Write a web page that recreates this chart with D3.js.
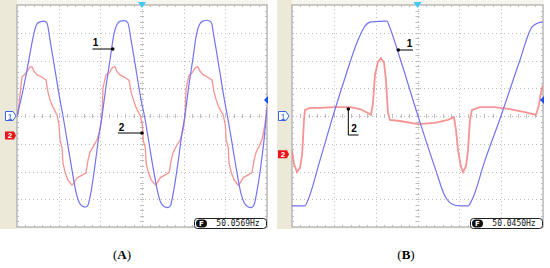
<!DOCTYPE html>
<html>
<head>
<meta charset="utf-8">
<script src="https://cdn.jsdelivr.net/npm/d3@7"></script>
<style>
  body { margin: 0; background: #fff; }
  svg { display: block; }
</style>
</head>
<body>
<div id="chart"></div>
<script>
// time in ms, voltage in screen divisions (centre = 0)
const blueA = [
  [0, 0], [1.2, 0.76], [2.4, 1.66], [3.36, 2.45], [4.08, 2.99], [4.8, 3.32], [5.52, 3.39], [6.48, 3.42], [7.2, 3.35],
  [7.92, 2.74], [9.12, 1.66], [10.32, 0.58], [11.04, 0], [12.0, -0.86], [13.2, -1.95], [14.16, -2.74], [14.88, -3.1],
  [15.6, -3.24], [16.56, -3.28], [17.04, -3.21], [17.76, -2.74], [18.72, -1.77], [19.68, -0.68], [20.4, 0],
  [21.4, 1.1], [22.4, 2.1], [23.2, 2.9], [24.0, 3.3], [24.8, 3.42], [25.8, 3.44], [26.6, 3.36],
  [27.4, 2.72], [28.6, 1.64], [29.8, 0.56], [30.6, 0], [31.6, -0.9], [32.8, -1.98], [33.8, -2.76], [34.5, -3.12],
  [35.3, -3.26], [36.3, -3.3], [36.9, -3.2], [37.6, -2.7], [38.6, -1.72], [39.6, -0.62], [40.3, 0],
  [41.2, 1.05], [42.2, 2.05], [43.0, 2.88], [43.8, 3.3], [44.6, 3.42], [45.6, 3.45], [46.6, 3.38],
  [47.4, 2.74], [48.6, 1.66], [49.8, 0.56], [50.5, 0], [51.5, -0.88], [52.7, -1.96], [53.7, -2.76], [54.5, -3.12],
  [55.3, -3.26], [56.3, -3.3], [56.9, -3.2], [57.6, -2.7], [58.6, -1.72], [59.4, -0.7], [60, 0.3]
];

const redA = [
  [0.24, 0.04], [0.72, 0.76], [1.2, 1.41], [1.68, 1.48], [2.4, 1.59], [3.12, 1.77], [3.6, 1.77], [4.08, 1.62],
  [4.8, 1.48], [5.52, 1.44], [6.24, 1.37], [6.96, 1.3], [7.44, 0.86], [7.92, 0.58], [8.64, 0.32], [9.6, 0.04],
  [10.08, -0.32], [10.32, -0.86], [10.8, -1.15], [11.04, -1.69], [11.52, -2.02], [12.24, -2.31], [13.2, -2.49],
  [13.68, -2.41], [14.4, -2.23], [15.6, -2.13], [16.56, -2.05], [17.04, -1.59], [17.52, -1.3], [18.24, -1.12],
  [19.2, -0.86], [19.92, -0.5], [20.4, -0.04], [20.64, 1.01], [21.36, 1.48], [22.1, 1.55], [22.9, 1.75],
  [23.5, 1.78], [24.0, 1.6], [24.8, 1.47], [25.5, 1.42], [26.2, 1.36], [26.9, 1.28], [27.4, 0.85], [27.9, 0.6],
  [28.6, 0.3], [29.6, 0.02], [30.1, -0.34], [30.3, -0.88], [30.8, -1.16], [31.0, -1.7], [31.5, -2.02],
  [32.2, -2.3], [33.2, -2.48], [33.7, -2.4], [34.4, -2.22], [35.6, -2.12], [36.5, -2.04], [37.0, -1.6],
  [37.5, -1.3], [38.2, -1.1], [39.2, -0.85], [39.9, -0.48], [40.3, -0.02], [40.6, 1.0], [41.3, 1.47],
  [42.0, 1.55], [42.8, 1.74], [43.4, 1.78], [43.9, 1.62], [44.7, 1.48], [45.4, 1.43], [46.1, 1.37], [46.8, 1.3],
  [47.3, 0.86], [47.8, 0.58], [48.5, 0.3], [49.5, 0.03], [50.0, -0.33], [50.2, -0.87], [50.7, -1.15],
  [50.9, -1.7], [51.4, -2.02], [52.1, -2.3], [53.1, -2.5], [53.6, -2.4], [54.3, -2.22], [55.5, -2.12],
  [56.4, -2.04], [56.9, -1.58], [57.4, -1.3], [58.1, -1.1], [58.9, -0.8], [59.5, -0.3], [60, 0.32]
];

const blueB = [
  [0, -3.24], [1.55, -3.24], [1.91, -3.03], [3.35, -1.59], [4.9, 0], [6.33, 1.37], [7.89, 2.74], [8.72, 3.24],
  [9.44, 3.39], [11.35, 3.42], [11.71, 3.17], [12.9, 2.09], [15.06, 0], [17.09, -1.87], [18.28, -2.88],
  [19.12, -3.17], [20.08, -3.24], [21.04, -3.24], [21.5, -3.03], [23.07, -1.59], [24.98, 0], [27.25, 2.02],
  [28.68, 3.21], [29.4, 3.35], [30, 3.39]
];

const redB = [
  [0, -1.23], [0.24, -1.73], [0.6, -2.02], [0.96, -1.87], [1.2, -1.41], [1.31, -0.86], [1.43, -0.14],
  [1.55, 0.22], [2.15, 0.29], [3.35, 0.29], [5.14, 0.32], [6.93, 0.32], [8.13, 0.25], [9.08, 0.11],
  [9.44, 0.04], [9.68, 0.47], [9.92, 1.48], [10.28, 1.95], [10.64, 2.09], [11.0, 1.91], [11.23, 1.3],
  [11.47, 0.11], [11.71, -0.14], [12.9, -0.18], [15.06, -0.29], [17.09, -0.25], [18.64, -0.14],
  [19.36, -0.04], [19.6, -0.5], [19.84, -1.23], [20.2, -1.84], [20.44, -2.02], [20.8, -1.8], [21.04, -1.23],
  [21.27, -0.14], [21.51, 0.22], [22.47, 0.32], [24.26, 0.32], [26.06, 0.25], [27.85, 0.14], [29.16, 0.04],
  [29.52, 0.4], [29.76, 0.86], [30, 1.12]
];

const panelLabels = ["A", "B"];
const freqLabels = ["50.0569Hz", "50.0450Hz"];
const timeSpans = [60, 30];
const ch2Offsets = [-0.7, -1.38];

const W = 550, H = 268;
const BLUE = "#7373f3";
const RED = "#f48080";
const GRID = "#bcbcbc";
const BEIGE = "#ece9d8";

const svg = d3.select("#chart").append("svg")
  .attr("width", W).attr("height", H);

const panels = [
  { left: 0, plotL: 17, plotR: 267, blue: blueA, red: redA, redW: 1.3, labelX: 122 },
  { left: 277, plotL: 292, plotR: 543, blue: blueB, red: redB, redW: 1.8, labelX: 406 }
];
const TOP = 5, BOTTOM = 227;

panels.forEach((p, i) => {
  const g = svg.append("g");
  const x = d3.scaleLinear().domain([0, timeSpans[i]]).range([p.plotL, p.plotR]);
  const y = d3.scaleLinear().domain([-4, 4]).range([BOTTOM, TOP]);

  // frame
  g.append("rect").attr("x", p.left).attr("y", 0)
    .attr("width", p.plotR - p.left + 1).attr("height", 229).attr("fill", "#f6f5ef");
  g.append("rect").attr("x", p.left).attr("y", 0)
    .attr("width", p.plotL - p.left).attr("height", 229).attr("fill", BEIGE);
  g.append("rect").attr("x", p.plotL).attr("y", TOP)
    .attr("width", p.plotR - p.plotL).attr("height", BOTTOM - TOP)
    .attr("fill", "#fff").attr("stroke", "#9a9a9a").attr("stroke-width", 1);

  // grid
  const xDiv = timeSpans[i] / 6;
  const xt = d3.range(1, 6).map(k => k * xDiv);
  const yt = d3.range(-3, 4);
  g.selectAll(".vg").data(xt).join("line")
    .attr("x1", d => Math.round(x(d)) + 0.5).attr("x2", d => Math.round(x(d)) + 0.5)
    .attr("y1", TOP).attr("y2", BOTTOM)
    .attr("stroke", GRID).attr("stroke-dasharray", "1,3");
  g.selectAll(".hg").data(yt).join("line")
    .attr("y1", d => Math.round(y(d)) + 0.5).attr("y2", d => Math.round(y(d)) + 0.5)
    .attr("x1", p.plotL).attr("x2", p.plotR)
    .attr("stroke", GRID).attr("stroke-dasharray", "1,3");

  // minor ticks on border and centre lines
  const xm = d3.range(1, 30).map(k => k * xDiv / 5);
  const ym = d3.range(-19, 20).map(k => k / 5);
  const cx = x(timeSpans[i] / 2), cy = y(0);
  xm.forEach(t => {
    const xx = Math.round(x(t)) + 0.5;
    [[TOP, TOP + 2], [BOTTOM - 2, BOTTOM], [cy - 2, cy + 2]].forEach(s =>
      g.append("line").attr("x1", xx).attr("x2", xx).attr("y1", s[0]).attr("y2", s[1])
        .attr("stroke", GRID));
  });
  ym.forEach(v => {
    const yy = Math.round(y(v)) + 0.5;
    [[p.plotL, p.plotL + 2], [p.plotR - 2, p.plotR], [cx - 2, cx + 2]].forEach(s =>
      g.append("line").attr("y1", yy).attr("y2", yy).attr("x1", s[0]).attr("x2", s[1])
        .attr("stroke", GRID));
  });

  // traces
  const clip = "clip" + i;
  g.append("clipPath").attr("id", clip).append("rect")
    .attr("x", p.plotL).attr("y", TOP).attr("width", p.plotR - p.plotL).attr("height", BOTTOM - TOP);
  g.append("path").datum(p.red)
    .attr("d", d3.line().x(d => x(d[0])).y(d => y(d[1])))
    .attr("fill", "none").attr("stroke", RED).attr("stroke-width", p.redW)
    .attr("stroke-opacity", 0.85).attr("clip-path", `url(#${clip})`);
  g.append("path").datum(p.blue)
    .attr("d", d3.line().x(d => x(d[0])).y(d => y(d[1])).curve(d3.curveMonotoneX))
    .attr("fill", "none").attr("stroke", BLUE).attr("stroke-width", 1.2)
    .attr("clip-path", `url(#${clip})`);

  // trigger marker at top
  g.append("path")
    .attr("d", `M${cx - 4},${TOP - 3} L${cx + 4},${TOP - 3} L${cx},${TOP + 3} Z`)
    .attr("fill", "#3fc8f0");
  // right level marker
  g.append("path")
    .attr("d", `M${p.plotR - 3},100 L${p.plotR + 1},96 L${p.plotR + 1},104 Z`)
    .attr("fill", "#1a4ff0");

  // channel markers
  const m1 = g.append("g").attr("transform", `translate(${p.left + (i ? 1 : 5)},${y(0)})`);
  m1.append("path").attr("d", "M0.5,-4.5 H8 L11,0 L8,4.5 H0.5 Z")
    .attr("fill", "#fff").attr("stroke", "#3a64e0");
  m1.append("text").attr("x", 5).attr("y", 3.5).attr("text-anchor", "middle")
    .attr("font-family", "Liberation Sans, Arial").attr("font-size", 9).attr("fill", "#3a64e0").text("1");
  const m2 = g.append("g").attr("transform", `translate(${p.left + (i ? 1 : 5)},${y(ch2Offsets[i])})`);
  m2.append("path").attr("d", "M0,-4 H9 L11,0 L9,4 H0 Z").attr("fill", "#e8151a");
  m2.append("text").attr("x", 5).attr("y", 3).attr("text-anchor", "middle")
    .attr("font-family", "Liberation Sans, Arial").attr("font-weight", "bold")
    .attr("font-size", 8).attr("fill", "#fff").text("2");

  // frequency readout
  const fx = p.plotR - 73, fy = 218;
  g.append("rect").attr("x", fx + 0.5).attr("y", fy + 0.5).attr("width", 72).attr("height", 10)
    .attr("rx", 3).attr("fill", "#fff").attr("stroke", "#222");
  g.append("rect").attr("x", fx + 2).attr("y", fy + 1.5).attr("width", 11).attr("height", 8)
    .attr("rx", 4).attr("fill", "#111");
  g.append("text").attr("x", fx + 7.5).attr("y", fy + 8).attr("text-anchor", "middle")
    .attr("font-family", "DejaVu Sans").attr("font-weight", "bold").attr("font-size", 7)
    .attr("fill", "#fff").text("F");
  g.append("text").attr("x", fx + 44).attr("y", fy + 8.2).attr("text-anchor", "middle")
    .attr("font-family", "DejaVu Sans Mono").attr("font-size", 8).attr("fill", "#111")
    .text(freqLabels[i]);

  // panel label
  const lab = g.append("text").attr("x", p.labelX).attr("y", 259).attr("text-anchor", "middle")
    .attr("font-family", "Liberation Serif, Times New Roman").attr("font-size", 13).attr("fill", "#000");
  lab.append("tspan").text("(");
  lab.append("tspan").attr("font-weight", "bold").text(panelLabels[i]);
  lab.append("tspan").text(")");
});

// curve annotations
const notes = [
  { dot: [112.7, 49], path: "M92.5,49 H112.7", text: "1", tx: 95.5, ty: 46 },
  { dot: [142, 133], path: "M118,133 H142", text: "2", tx: 121.5, ty: 130.5 },
  { dot: [398.3, 50], path: "M398.3,50 H413", text: "1", tx: 409.5, ty: 47 },
  { dot: [348.3, 109], path: "M348.3,109 V135 H358.5", text: "2", tx: 354, ty: 132 }
];
notes.forEach(n => {
  svg.append("path").attr("d", n.path).attr("fill", "none").attr("stroke", "#000").attr("stroke-width", 1);
  svg.append("circle").attr("cx", n.dot[0]).attr("cy", n.dot[1]).attr("r", 1.8).attr("fill", "#000");
  svg.append("text").attr("x", n.tx).attr("y", n.ty).attr("text-anchor", "middle")
    .attr("font-family", "Liberation Sans, Arial").attr("font-weight", "bold").attr("font-size", 10)
    .text(n.text);
});
</script>
</body>
</html>
